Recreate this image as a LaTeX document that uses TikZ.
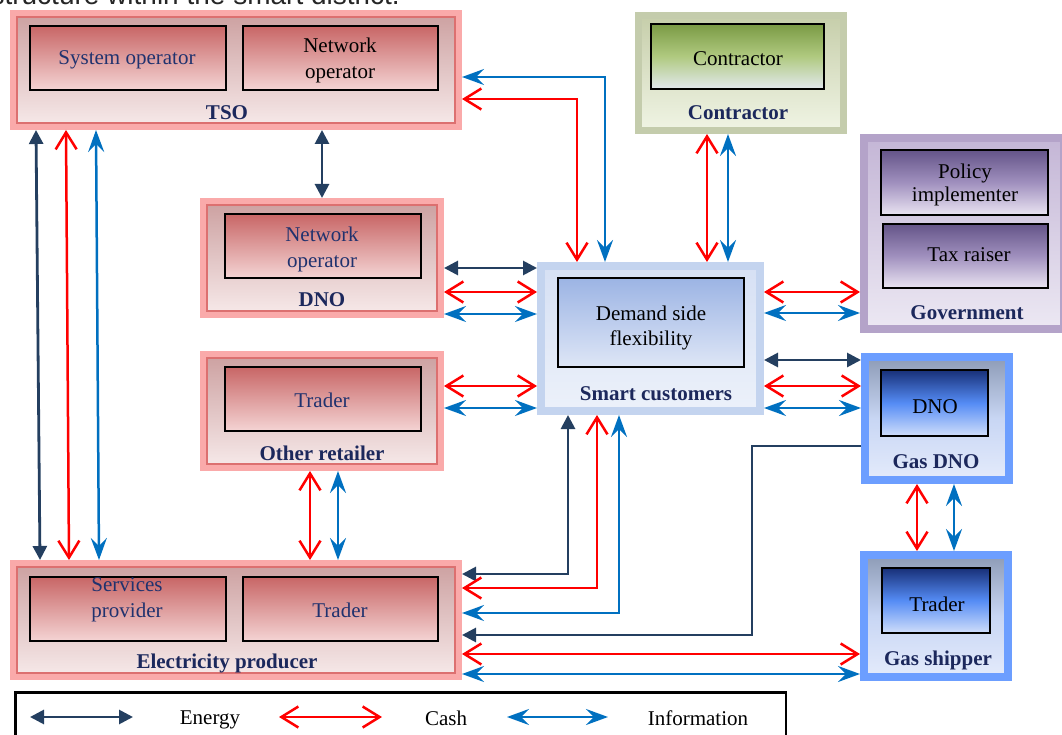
\documentclass[tikz,border=0pt]{standalone}
\usepackage{fontspec}
\setmainfont{Liberation Serif}
\newfontfamily\capfont{Liberation Sans}
\usetikzlibrary{arrows.meta,calc}
\definecolor{enC}{RGB}{36,63,96}
\definecolor{caC}{RGB}{255,0,0}
\definecolor{inC}{RGB}{0,112,192}
\definecolor{labC}{RGB}{28,40,92}
\definecolor{txC}{RGB}{32,50,110}
\definecolor{rFrame}{RGB}{250,170,170}
\definecolor{rLine}{RGB}{220,112,112}
\definecolor{rTop}{RGB}{204,160,160}
\definecolor{rBot}{RGB}{247,234,234}
\definecolor{riTop}{RGB}{200,102,102}
\definecolor{riBot}{RGB}{244,212,212}
\definecolor{bFrame}{RGB}{196,212,239}
\definecolor{bTop}{RGB}{214,224,244}
\definecolor{bBot}{RGB}{236,241,250}
\definecolor{biTop}{RGB}{156,180,228}
\definecolor{biBot}{RGB}{222,230,246}
\definecolor{gFrame}{RGB}{108,158,255}
\definecolor{gTop}{RGB}{141,155,182}
\definecolor{gMid}{RGB}{200,214,244}
\definecolor{gBot}{RGB}{228,235,251}
\definecolor{giTop}{RGB}{24,48,120}
\definecolor{giMid}{RGB}{85,140,245}
\definecolor{giBot}{RGB}{208,222,250}
\definecolor{cFrame}{RGB}{196,204,172}
\definecolor{cTop}{RGB}{198,206,170}
\definecolor{cBot}{RGB}{240,244,228}
\definecolor{ciTop}{RGB}{122,154,68}
\definecolor{ciMid}{RGB}{176,202,128}
\definecolor{ciBot}{RGB}{226,232,238}
\definecolor{pFrame}{RGB}{180,163,201}
\definecolor{pTop}{RGB}{196,182,214}
\definecolor{pBot}{RGB}{236,232,243}
\definecolor{piTop}{RGB}{100,84,136}
\definecolor{piMid}{RGB}{160,144,190}
\definecolor{piBot}{RGB}{234,228,242}
\newcommand\txtfont{\fontsize{21pt}{25.5pt}\selectfont}
\newcommand\labfont{\bfseries\fontsize{21pt}{25pt}\selectfont}
\begin{document}
\begin{tikzpicture}[x=1pt,y=-1pt,
  intext/.style={font=\txtfont, text=txC, align=center, inner sep=0pt},
  lab/.style={font=\labfont, text=labC, inner sep=0pt},
  boxbase/.style={rectangle, inner sep=0pt},
  redouter/.style={boxbase, draw=rFrame, line width=6pt, top color=rTop, bottom color=rBot},
  redinner/.style={boxbase, draw=black, line width=2pt, top color=riTop, bottom color=riBot},
  bluouter/.style={boxbase, draw=bFrame, line width=8pt, top color=bTop, bottom color=bBot},
  bluinner/.style={boxbase, draw=black, line width=2pt, top color=biTop, bottom color=biBot},
  gasouter/.style={boxbase, draw=gFrame, line width=8pt, top color=gTop, bottom color=gBot, middle color=gMid},
  gasinner/.style={boxbase, draw=black, line width=2pt, top color=giTop, bottom color=giBot, middle color=giMid},
  grnouter/.style={boxbase, draw=cFrame, line width=7pt, top color=cTop, bottom color=cBot},
  grninner/.style={boxbase, draw=black, line width=2pt, top color=ciTop, bottom color=ciBot, middle color=ciMid},
  purouter/.style={boxbase, draw=pFrame, line width=8pt, top color=pTop, bottom color=pBot},
  purinner/.style={boxbase, draw=black, line width=2pt, top color=piTop, bottom color=piBot, middle color=piMid},
  redrim/.style={draw=rLine, line width=2pt},
  energy/.style={draw=enC, line width=2.8pt, arrows={Triangle[length=14pt,width=14pt]-Triangle[length=14pt,width=14pt]}},
  energyone/.style={draw=enC, line width=2.8pt, arrows={-Triangle[length=14pt,width=14pt]}},
  cash/.style={draw=caC, line width=2.5pt, arrows={Straight Barb[length=17pt,width=21pt]-Straight Barb[length=17pt,width=21pt]}},
  info/.style={draw=inC, line width=2.5pt, arrows={Stealth[length=22pt,width=16pt,inset=8pt]-Stealth[length=22pt,width=16pt,inset=8pt]}}
]
\useasboundingbox (0,0) rectangle (1062,735);

% clipped caption at the top
\begin{scope}
\clip (0,0) rectangle (1062,735);
\node[font=\capfont\fontsize{28pt}{32pt}\selectfont, text=black!85, anchor=base east, inner sep=0pt] (cap) at (400,4.5) {Market structure within the smart district.};
\end{scope}

% TSO
\node[redouter, minimum width=446pt, minimum height=114pt] (tso) at (236,70) {};
\draw[redrim] ($(tso.north west)+(7,7)$) rectangle ($(tso.south east)+(-7,-7)$);
\node[redinner, minimum width=196pt, minimum height=64pt] (sysop) at (128,58) {};
\node[redinner, minimum width=195pt, minimum height=64pt] (netop) at (340.5,58) {};
\node[intext] (sysopt) at (127,60) {System operator};
\node[intext, text=black] (netopt) at (340,60.5) {Network\\operator};
\node[lab] (tsolab) at (227,113) {TSO};

% Contractor
\node[grnouter, minimum width=205pt, minimum height=115pt] (contr) at (741,73) {};
\node[grninner, minimum width=173pt, minimum height=65pt] (contrin) at (737.5,56.5) {};
\node[intext, text=black] (contrt) at (738,59) {Contractor};
\node[lab] (contrlab) at (738,113) {Contractor};

% Government
\node[purouter, minimum width=200pt, minimum height=191pt] (gov) at (964,233.5) {};
\node[purinner, minimum width=167pt, minimum height=65pt] (policy) at (964.5,182.5) {};
\node[purinner, minimum width=165pt, minimum height=64pt] (tax) at (965.5,256) {};
\node[intext, text=black, font=\fontsize{21pt}{23pt}\selectfont] (policyt) at (965,184.5) {Policy\\implementer};
\node[intext, text=black] (taxt) at (969,255) {Tax raiser};
\node[lab] (govlab) at (967,313) {Government};

% DNO
\node[redouter, minimum width=238pt, minimum height=114pt] (dno) at (322,258) {};
\draw[redrim] ($(dno.north west)+(7,7)$) rectangle ($(dno.south east)+(-7,-7)$);
\node[redinner, minimum width=196pt, minimum height=64pt] (dnoin) at (323,246) {};
\node[intext] (dnot) at (322,249.5) {Network\\operator};
\node[lab] (dnolab) at (322,300) {DNO};

% Other retailer
\node[redouter, minimum width=238pt, minimum height=114pt] (oret) at (322,411) {};
\draw[redrim] ($(oret.north west)+(7,7)$) rectangle ($(oret.south east)+(-7,-7)$);
\node[redinner, minimum width=196pt, minimum height=64pt] (oretin) at (323,399) {};
\node[intext] (orett) at (322,400) {Trader};
\node[lab] (oretlab) at (322,453) {Other retailer};

% Smart customers
\node[bluouter, minimum width=219pt, minimum height=145pt] (smart) at (650.5,338.5) {};
\node[bluinner, minimum width=186pt, minimum height=89pt] (demand) at (651,322.5) {};
\node[intext, text=black] (demandt) at (651,328) {Demand side\\flexibility};
\node[lab] (smartlab) at (656,394) {Smart customers};

% Gas DNO
\node[gasouter, minimum width=144pt, minimum height=123pt] (gdno) at (937,418.5) {};
\node[gasinner, minimum width=107pt, minimum height=66pt] (gdnoin) at (934.5,403) {};
\node[intext, text=black] (gdnot) at (935,407) {DNO};
\node[lab] (gdnolab) at (936,462) {Gas DNO};

% Gas shipper
\node[gasouter, minimum width=144pt, minimum height=122pt] (gship) at (936,616) {};
\node[gasinner, minimum width=108pt, minimum height=65pt] (gshipin) at (936,600.5) {};
\node[intext, text=black] (gshipt) at (937,604) {Trader};
\node[lab] (gshiplab) at (938,660) {Gas shipper};

% Electricity producer
\node[redouter, minimum width=446pt, minimum height=114pt] (elec) at (236,620) {};
\draw[redrim] ($(elec.north west)+(7,7)$) rectangle ($(elec.south east)+(-7,-7)$);
\node[redinner, minimum width=196pt, minimum height=64pt] (servp) at (128,609) {};
\node[redinner, minimum width=195pt, minimum height=64pt] (etrad) at (340.5,609) {};
\node[intext] (servpt) at (127,600) {Services\\provider};
\node[intext] (etradt) at (340,610) {Trader};
\node[lab] (eleclab) at (227,663) {Electricity producer};

% ---------- connectors ----------
% TSO - Electricity producer
\coordinate (t1) at ($(tso.south west)+(26,0)$);
\coordinate (e1) at ($(elec.north west)+(30,0)$);
\coordinate (t2) at ($(tso.south west)+(56,0)$);
\coordinate (e2) at ($(elec.north west)+(59,0)$);
\coordinate (t3) at ($(tso.south west)+(86,0)$);
\coordinate (e3) at ($(elec.north west)+(89,0)$);
\draw[energy] (t1) -- (e1);
\draw[cash] (t2) -- (e2);
\draw[info] (t3) -- (e3);

% TSO - DNO
\draw[energy] (tso.south -| dno.north) -- (dno.north);

% TSO - Smart customers
\coordinate (t4) at ($(tso.east)+(0,29)$);
\coordinate (s4) at ($(smart.north west)+(40,0)$);
\coordinate (t5) at ($(tso.east)+(0,7)$);
\coordinate (s5) at ($(smart.north west)+(68,0)$);
\draw[cash] (t4) -| (s4);
\draw[info] (t5) -| (s5);

% Contractor - Smart customers
\coordinate (c1) at ($(contr.south west)+(72,0)$);
\coordinate (c2) at ($(contr.south west)+(93,0)$);
\draw[cash] (c1) -- (c1 |- smart.north);
\draw[info] (c2) -- (c2 |- smart.north);

% DNO - Smart customers
\coordinate (d1) at ($(dno.east)+(0,10)$);
\coordinate (d2) at ($(dno.east)+(0,34)$);
\coordinate (d3) at ($(dno.east)+(0,56)$);
\draw[energy] (d1) -- (d1 -| smart.west);
\draw[cash] (d2) -- (d2 -| smart.west);
\draw[info] (d3) -- (d3 -| smart.west);

% Other retailer - Smart customers
\coordinate (o1) at ($(oret.east)+(0,-25)$);
\coordinate (o2) at ($(oret.east)+(0,-3)$);
\draw[cash] (o1) -- (o1 -| smart.west);
\draw[info] (o2) -- (o2 -| smart.west);

% Smart customers - Government
\coordinate (s7) at ($(smart.east)+(0,-46.5)$);
\coordinate (s8) at ($(smart.east)+(0,-25.5)$);
\draw[cash] (s7) -- (s7 -| gov.west);
\draw[info] (s8) -- (s8 -| gov.west);

% Smart customers - Gas DNO
\coordinate (s9) at ($(smart.east)+(0,21.5)$);
\coordinate (s10) at ($(smart.east)+(0,47.5)$);
\coordinate (s11) at ($(smart.east)+(0,69.5)$);
\draw[energy] (s9) -- (s9 -| gdno.west);
\draw[cash] (s10) -- (s10 -| gdno.west);
\draw[info] (s11) -- (s11 -| gdno.west);

% Other retailer - Electricity producer
\coordinate (o3) at ($(oret.south west)+(110,0)$);
\coordinate (o4) at ($(oret.south west)+(138,0)$);
\draw[cash] (o3) -- (o3 |- elec.north);
\draw[info] (o4) -- (o4 |- elec.north);

% Gas DNO - Gas shipper
\coordinate (g2) at ($(gdno.south west)+(56,0)$);
\coordinate (g3) at ($(gdno.south west)+(93,0)$);
\draw[cash] (g2) -- (g2 |- gship.north);
\draw[info] (g3) -- (g3 |- gship.north);

% Smart customers - Electricity producer
\coordinate (s12) at ($(smart.south west)+(31,0)$);
\coordinate (s13) at ($(smart.south west)+(60,0)$);
\coordinate (s14) at ($(smart.south west)+(82,0)$);
\coordinate (e4) at ($(elec.east)+(0,-46)$);
\coordinate (e5) at ($(elec.east)+(0,-32)$);
\coordinate (e6) at ($(elec.east)+(0,-7)$);
\draw[energy] (s12) |- (e4);
\draw[cash] (s13) |- (e5);
\draw[info] (s14) |- (e6);

% Gas DNO -> Electricity producer
\coordinate (g1) at ($(gdno.west)+(0,27.5)$);
\coordinate (k1) at ($(g1)+(-109,0)$);
\coordinate (e7) at ($(elec.east)+(0,15)$);
\draw[energyone] (g1) -- (k1) |- (e7);

% Electricity producer - Gas shipper
\coordinate (e8) at ($(elec.east)+(0,34)$);
\coordinate (e9) at ($(elec.east)+(0,54)$);
\draw[cash] (e8) -- (e8 -| gship.west);
\draw[info] (e9) -- (e9 -| gship.west);

% ---------- legend ----------
\node[boxbase, draw=black, line width=2.5pt, minimum width=770.5pt, minimum height=57.5pt] (legend) at (400.5,721) {};
\coordinate (la1) at (30,717);
\coordinate (la2) at (133,717);
\coordinate (lb1) at (279,717);
\coordinate (lb2) at (382,717);
\coordinate (lc1) at (507,717);
\coordinate (lc2) at (608,717);
\draw[energy] (la1) -- (la2);
\draw[cash] (lb1) -- (lb2);
\draw[info] (lc1) -- (lc2);
\node[font=\txtfont, inner sep=0pt] (legE) at (210,720) {Energy};
\node[font=\txtfont, inner sep=0pt] (legC) at (446,718) {Cash};
\node[font=\txtfont, inner sep=0pt] (legI) at (698,718) {Information};
\end{tikzpicture}
\end{document}
